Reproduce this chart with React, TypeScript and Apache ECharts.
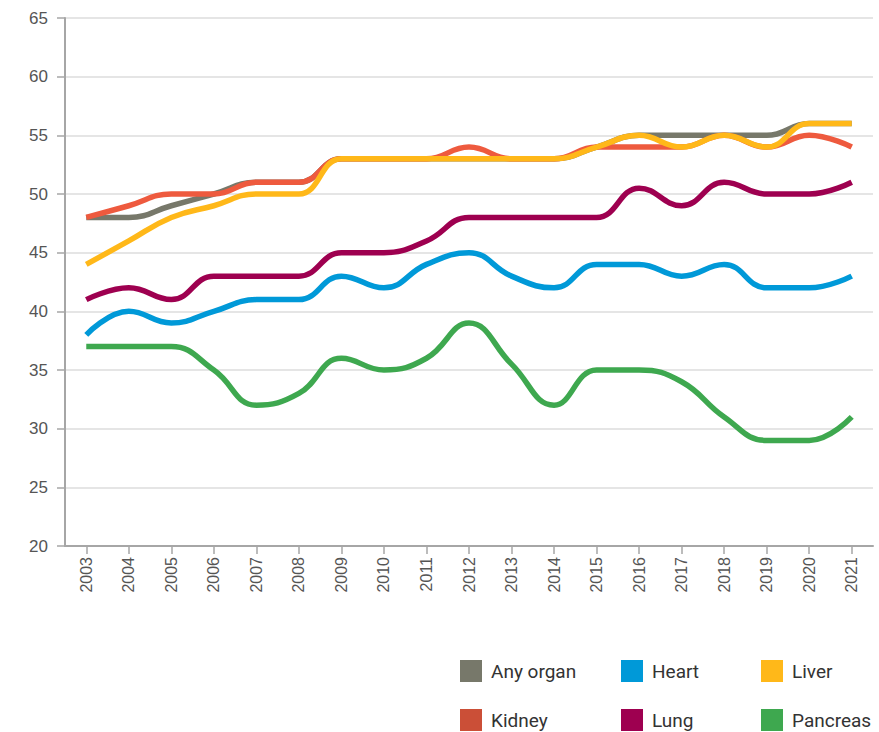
import React, { useEffect, useRef } from "react";
import * as echarts from "echarts";

const years = ["2003","2004","2005","2006","2007","2008","2009","2010","2011","2012","2013","2014","2015","2016","2017","2018","2019","2020","2021"];
const anyOrgan = [48, 48, 49, 50, 51, 51, 53, 53, 53, 53, 53, 53, 54, 55, 55, 55, 55, 56, 56];
const kidney = [48, 49, 50, 50, 51, 51, 53, 53, 53, 54, 53, 53, 54, 54, 54, 55, 54, 55, 54];
const heart = [38, 40, 39, 40, 41, 41, 43, 42, 44, 45, 43, 42, 44, 44, 43, 44, 42, 42, 43];
const lung = [41, 42, 41, 43, 43, 43, 45, 45, 46, 48, 48, 48, 48, 50.5, 49, 51, 50, 50, 51];
const liver = [44, 46, 48, 49, 50, 50, 53, 53, 53, 53, 53, 53, 54, 55, 54, 55, 54, 56, 56];
const pancreas = [37, 37, 37, 35, 32, 33, 36, 35, 36, 39, 35.5, 32, 35, 35, 34, 31, 29, 29, 31];

const seriesNames = ["Any organ", "Kidney", "Heart", "Lung", "Liver", "Pancreas"];
const seriesData = [anyOrgan, kidney, heart, lung, liver, pancreas];
const colors = ["#77786a", "#ee5a3e", "#0099d8", "#9e0050", "#ffb819", "#3ea84f"];
const legendColors: Record<string, string> = {
  "Any organ": "#77786a",
  "Kidney": "#cb4f37",
  "Heart": "#0099d8",
  "Lung": "#9e0050",
  "Liver": "#ffb819",
  "Pancreas": "#3ea84f",
};

export default function App() {
  const ref = useRef<HTMLDivElement>(null);
  useEffect(() => {
    if (!ref.current) return;
    const chart = echarts.init(ref.current, undefined, { renderer: "svg" });
    const legendBase = {
      orient: "vertical",
      top: 660,
      padding: 0,
      height: 72,
      itemWidth: 22,
      itemHeight: 22,
      itemGap: 27,
      icon: "rect",
      textStyle: { fontFamily: "Liberation Sans Narrow, Roboto, sans-serif", fontSize: 19, color: "#333", padding: [0, 0, 0, 4] },
      selectedMode: false,
    };
    chart.setOption({
      animation: false,
      backgroundColor: "#fff",
      grid: { left: 65, right: 6, top: 18, bottom: 186 },
      legend: [
        { ...legendBase, left: 460, data: ["Any organ", "Kidney"] },
        { ...legendBase, left: 621, data: ["Heart", "Lung"] },
        { ...legendBase, left: 761, data: ["Liver", "Pancreas"] },
      ],
      xAxis: {
        type: "category",
        data: years,
        boundaryGap: true,
        axisLine: { lineStyle: { color: "#a6a6a6", width: 2 } },
        axisTick: { show: true, alignWithLabel: true, length: 8, lineStyle: { color: "#a6a6a6", width: 1.5 } },
        axisLabel: { rotate: 90, color: "#555", fontSize: 16, fontFamily: "Liberation Sans", margin: 11, interval: 0 },
      },
      yAxis: {
        type: "value",
        min: 20,
        max: 65,
        interval: 5,
        axisLine: { show: true, lineStyle: { color: "#a6a6a6", width: 2 } },
        axisTick: { show: true, length: 8, lineStyle: { color: "#a6a6a6", width: 1.5 } },
        axisLabel: { color: "#555", fontSize: 17, fontFamily: "Liberation Sans", margin: 17 },
        splitLine: { lineStyle: { color: "#dcdcdc", width: 1.5 } },
      },
      series: seriesNames.map((name, i) => ({
        name,
        type: "line",
        data: seriesData[i],
        smooth: 0.45,
        symbol: "none",
        lineStyle: { color: colors[i], width: 5.5 },
        itemStyle: { color: legendColors[name] },
        z: 2 + i,
      })),
    });
    return () => chart.dispose();
  }, []);
  return <div ref={ref} style={{ width: 879, height: 732, position: "absolute", left: 0, top: 0 }} />;
}
